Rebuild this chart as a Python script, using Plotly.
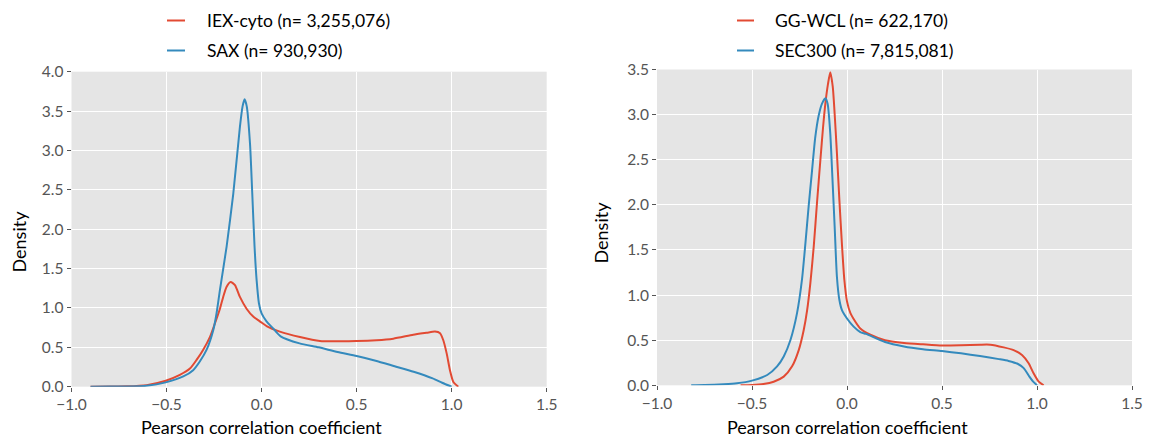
import plotly.graph_objects as go

# ---------------- data ----------------
# Left panel
iex_x = [-0.9, -0.8, -0.71, -0.605, -0.504, -0.43, -0.377, -0.342, -0.307, -0.272, -0.246,
         -0.219, -0.202, -0.184, -0.163, -0.14, -0.114, -0.079, -0.044, -0.009, 0.026, 0.096,
         0.202, 0.307, 0.5, 0.605, 0.693, 0.798, 0.868, 0.912, 0.939, 0.956, 0.974, 0.991,
         1.009, 1.035]
iex_y = [0.0, 0.002, 0.005, 0.02, 0.076, 0.15, 0.23, 0.34, 0.47, 0.63, 0.80,
         0.99, 1.14, 1.27, 1.33, 1.29, 1.14, 0.99, 0.89, 0.83, 0.77, 0.70,
         0.63, 0.58, 0.58, 0.59, 0.61, 0.66, 0.685, 0.70, 0.68, 0.59, 0.42, 0.21,
         0.06, 0.0]

sax_x = [-0.9, -0.8, -0.71, -0.605, -0.504, -0.412, -0.36, -0.325, -0.289, -0.254, -0.237,
         -0.219, -0.184, -0.149, -0.114, -0.1, -0.0895, -0.078, -0.061, -0.049, -0.037,
         -0.026, -0.014, 0.0, 0.026, 0.061, 0.1, 0.2, 0.3, 0.4, 0.5, 0.6, 0.7, 0.8, 0.9,
         0.95, 1.0]
sax_y = [0.0, 0.001, 0.003, 0.013, 0.055, 0.13, 0.21, 0.32, 0.47, 0.72, 0.93,
         1.23, 1.78, 2.45, 3.30, 3.56, 3.65, 3.56, 3.09, 2.45, 1.78,
         1.35, 1.06, 0.93, 0.83, 0.74, 0.64, 0.55, 0.50, 0.44, 0.39, 0.33, 0.26, 0.19, 0.105,
         0.05, 0.0]

# Right panel
gg_x = [-0.56, -0.5, -0.44, -0.386, -0.333, -0.289, -0.254, -0.228, -0.21, -0.193, -0.175,
        -0.158, -0.14, -0.126, -0.114, -0.1, -0.088, -0.075, -0.065, -0.053, -0.04, -0.026,
        -0.014, 0.0, 0.018, 0.044, 0.07, 0.123, 0.2, 0.3, 0.4, 0.5, 0.6, 0.7, 0.754, 0.825,
        0.877, 0.921, 0.956, 0.982, 1.009, 1.035]
gg_y = [0.0, 0.004, 0.015, 0.04, 0.096, 0.21, 0.39, 0.61, 0.83, 1.13, 1.54,
        2.02, 2.50, 2.86, 3.12, 3.34, 3.47, 3.31, 3.01, 2.57, 2.05, 1.54,
        1.17, 0.93, 0.80, 0.705, 0.63, 0.56, 0.50, 0.47, 0.454, 0.44, 0.443, 0.45, 0.45, 0.42,
        0.39, 0.336, 0.244, 0.133, 0.04, 0.0]

sec_x = [-0.82, -0.75, -0.649, -0.579, -0.5, -0.42, -0.368, -0.333, -0.298, -0.263, -0.237,
         -0.219, -0.202, -0.184, -0.167, -0.149, -0.132, -0.114, -0.102, -0.088, -0.077,
         -0.065, -0.053, -0.04, -0.026, 0.0, 0.035, 0.07, 0.1, 0.2, 0.3, 0.4, 0.5, 0.6, 0.7,
         0.8, 0.85, 0.9, 0.93, 0.96, 0.98, 1.0]
sec_y = [0.0, 0.002, 0.011, 0.022, 0.052, 0.114, 0.21, 0.32, 0.50, 0.80, 1.17,
         1.57, 1.98, 2.38, 2.75, 2.99, 3.12, 3.18, 3.12, 2.79, 2.31,
         1.76, 1.20, 0.945, 0.83, 0.74, 0.65, 0.59, 0.57, 0.48, 0.43, 0.40, 0.38, 0.354, 0.325,
         0.29, 0.27, 0.236, 0.19, 0.096, 0.04, 0.0]

left_names = ["IEX-cyto (n= 3,255,076)", "SAX (n= 930,930)"]
right_names = ["GG-WCL (n= 622,170)", "SEC300 (n= 7,815,081)"]
x_ticks = [-1.0, -0.5, 0.0, 0.5, 1.0, 1.5]
y_ticks_left = [0.0, 0.5, 1.0, 1.5, 2.0, 2.5, 3.0, 3.5, 4.0]
y_ticks_right = [0.0, 0.5, 1.0, 1.5, 2.0, 2.5, 3.0, 3.5]
x_title = "Pearson correlation coefficient"
y_title = "Density"

# ---------------- styling ----------------
RED = "#E24A33"
BLUE = "#348ABD"
FONT = "Lato"
W, H = 1156, 438

def px(x):
    return x / W

def py(y):
    return (H - y) / H

fig = go.Figure()
line_kw = dict(shape="spline", smoothing=0.6, width=2)
fig.add_trace(go.Scatter(x=iex_x, y=iex_y, mode="lines", name=left_names[0],
                         line=dict(color=RED, **line_kw), xaxis="x", yaxis="y"))
fig.add_trace(go.Scatter(x=sax_x, y=sax_y, mode="lines", name=left_names[1],
                         line=dict(color=BLUE, **line_kw), xaxis="x", yaxis="y"))
fig.add_trace(go.Scatter(x=gg_x, y=gg_y, mode="lines", name=right_names[0],
                         line=dict(color=RED, **line_kw), xaxis="x2", yaxis="y2"))
fig.add_trace(go.Scatter(x=sec_x, y=sec_y, mode="lines", name=right_names[1],
                         line=dict(color=BLUE, **line_kw), xaxis="x2", yaxis="y2"))

axis_common = dict(
    showgrid=True, gridcolor="white", gridwidth=1.3,
    zeroline=False, showline=False, automargin=False,
    ticks="outside", ticklen=4, tickwidth=1, tickcolor="#555555",
    tickfont=dict(family=FONT, size=15.5, color="#555555"),
    tickformat=".1f",
)

fig.update_layout(
    width=W, height=H,
    margin=dict(l=0, r=0, t=0, b=0),
    paper_bgcolor="white",
    plot_bgcolor="#E5E5E5",
    showlegend=False,
    xaxis=dict(domain=[px(71.5), px(546.7)], range=[-1.0, 1.5], tickvals=x_ticks,
               anchor="y", **axis_common),
    yaxis=dict(domain=[py(386.7), py(71.7)], range=[0, 4.0], tickvals=y_ticks_left,
               anchor="x", **axis_common),
    xaxis2=dict(domain=[px(657), px(1132)], range=[-1.0, 1.5], tickvals=x_ticks,
                anchor="y2", **axis_common),
    yaxis2=dict(domain=[py(385.3), py(69.5)], range=[0, 3.5], tickvals=y_ticks_right,
                anchor="x2", **axis_common),
)

annotations = []
shapes = []
# axis titles
for xref, in_x in (("x", 0.0), ("x2", 0.0)):
    annotations.append(dict(text=x_title, xref=xref, x=in_x, yref="paper", y=py(427),
                            xanchor="center", yanchor="middle", showarrow=False,
                            font=dict(family=FONT, size=18, color="black")))
for xpx, ypx in ((18, 241.5), (600, 232.5)):
    annotations.append(dict(text=y_title, xref="paper", x=px(xpx), yref="paper", y=py(ypx),
                            textangle=-90, xanchor="center", yanchor="middle", showarrow=False,
                            font=dict(family=FONT, size=18, color="black")))

# legends
legend_specs = [
    (167, 185, 205, left_names),
    (737, 754, 773, right_names),
]
for x0, x1, xt, names in legend_specs:
    for name, color, ypx in ((names[0], RED, 20.5), (names[1], BLUE, 50.5)):
        shapes.append(dict(type="line", xref="paper", yref="paper",
                           x0=px(x0), x1=px(x1), y0=py(ypx), y1=py(ypx),
                           line=dict(color=color, width=2)))
        annotations.append(dict(text=name, xref="paper", x=px(xt), yref="paper", y=py(ypx),
                                xanchor="left", yanchor="middle", showarrow=False,
                                font=dict(family=FONT, size=17.5, color="black")))

fig.update_layout(annotations=annotations, shapes=shapes)
fig.write_html("out.html")
